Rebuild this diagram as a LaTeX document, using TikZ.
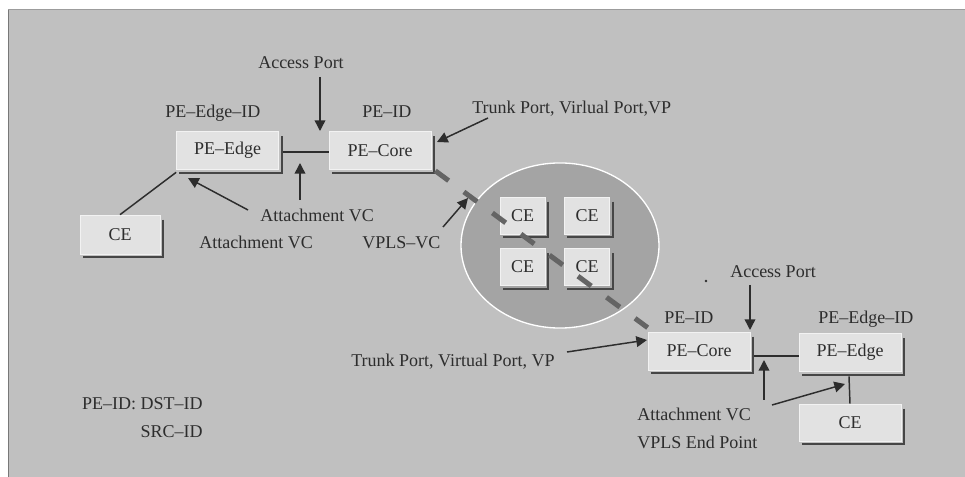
\documentclass[tikz,border=0pt]{standalone}
\usepackage{fontspec}
\setmainfont{Liberation Serif}
\usetikzlibrary{arrows.meta,calc}

\definecolor{bggray}{RGB}{192,192,192}
\definecolor{boxface}{RGB}{226,226,226}
\definecolor{boxrim}{RGB}{242,242,242}
\definecolor{ellfill}{RGB}{164,164,164}
\definecolor{ink}{RGB}{45,45,45}
\definecolor{shade}{RGB}{70,70,70}
\definecolor{edgegray}{RGB}{120,120,120}
\definecolor{dashgray}{RGB}{100,100,100}

\begin{document}
\begin{tikzpicture}[x=0.75pt,y=-0.75pt,
  txt/.style={font=\fontsize{13.5}{15}\selectfont, text=ink},
  lbl/.style={txt, inner sep=0pt, anchor=base west},
  lblr/.style={txt, inner sep=0pt, anchor=base east},
  box/.style={txt, draw=boxrim, fill=boxface, line width=0.5pt, inner sep=0pt},
  pebox/.style={box, minimum width=76.5pt, minimum height=28.5pt},
  cebig/.style={box, minimum width=60pt, minimum height=29.25pt},
  cewide/.style={box, minimum width=76.5pt, minimum height=27.75pt},
  cesmall/.style={box, minimum width=33.75pt, minimum height=27.75pt},
  dropshade/.style={draw=shade, line width=1.6pt},
  link/.style={draw=ink, line width=1.1pt},
  arr/.style={draw=ink, line width=1.1pt, -{Triangle[length=8pt,width=8pt]}},
  vcpath/.style={draw=dashgray, line width=3.75pt, dash pattern=on 12.4pt off 14.2pt}
]
% canvas
\useasboundingbox (0,0) rectangle (965,477);
\fill[white] (0,0) rectangle (965,477);
\fill[bggray] (8,10) rectangle (965,477);
\fill[edgegray] (7.5,10) rectangle (8.5,477);
\fill[edgegray!50!bggray] (8,9.5) rectangle (965,10.5);

% VPLS cloud
\draw[white, line width=1pt, fill=ellfill] (560,245.5) ellipse [x radius=74.25pt, y radius=61.9pt];

% devices
\node[pebox] (peL) at (227.5,150.5) {PE–Edge};
\node[pebox] (pcL) at (380,150.5) {PE–Core};
\node[cebig] (ceL) at (120,234.5) {CE};
\node[cesmall] (ce1) at (522.5,215.5) {CE};
\node[cesmall] (ce2) at (587,215.5) {CE};
\node[cesmall] (ce3) at (522.5,267) {CE};
\node[cesmall] (ce4) at (587,267) {CE};
\node[pebox] (pcR) at (699,351) {PE–Core};
\node[pebox] (peR) at (850,352.5) {PE–Edge};
\node[cewide] (ceR) at (850,422.5) {CE};

% drop shadows along right and bottom edges
\foreach \n in {peL,pcL,ceL,ce1,ce2,ce3,ce4,pcR,peR,ceR}
  \draw[dropshade] ([shift={(3,5)}]\n.north east) -- ([shift={(3,3)}]\n.south east)
                   -- ([shift={(3,3)}]\n.south west);

% labels
\node[lbl] (apU) at (258,69) {Access Port};
\node[lbl] (peidEU) at (165,118) {PE–Edge–ID};
\node[lbl] (peidU) at (362,118) {PE–ID};
\node[lbl] (tpU) at (472,114) {Trunk Port, Virlual Port,VP};
\node[lbl] (avA) at (260,222) {Attachment VC};
\node[lbl] (avB) at (199,249) {Attachment VC};
\node[lbl] (vplsvc) at (362,249) {VPLS–VC};
\node[lbl] (apR) at (730,278) {Access Port};
\node[lbl] (peidR) at (664,324) {PE–ID};
\node[lbl] (peidER) at (818,324) {PE–Edge–ID};
\node[lbl] (tpR) at (351,367) {Trunk Port, Virtual Port, VP};
\node[lbl] (avR) at (637,421) {Attachment VC};
\node[lbl] (endpt) at (637,449) {VPLS End Point};
\node[lblr] (idA) at (203,410) {PE–ID: DST–ID};
\node[lblr] (idB) at (203,438) {SRC–ID};
\fill[ink] (706,281) circle [radius=1.1pt];

% attachment circuits
\draw[link] ([shift={(4,1.5)}]peL.east) -- ([shift={(0,1.5)}]pcL.west);
\draw[link] (ceL.north) -- ([shift={(0,2.5)}]peL.south west);
\draw[link] ([shift={(4,5)}]pcR.east) -- ([shift={(0,3.5)}]peR.west);
\draw[link] ([shift={(-1,4.5)}]peR.south) -- (ceR.north);

% pointer arrows
\coordinate (apUa) at (320,77);   \coordinate (apUb) at (320,131);
\coordinate (tpUa) at (488,118);  \coordinate (tpUb) at (437,142);
\coordinate (avAa) at (248,210);  \coordinate (avAb) at (188,178);
\coordinate (avAc) at (300,200);  \coordinate (avAd) at (300,163);
\coordinate (vvA)  at (443,227);  \coordinate (vvB)  at (468,198);
\coordinate (apRa) at (750,285);  \coordinate (apRb) at (750,330);
\coordinate (tpRa) at (567,352);  \coordinate (tpRb) at (647,340);
\coordinate (avRa) at (764,400);  \coordinate (avRb) at (764,360);
\coordinate (avRc) at (772,405);  \coordinate (avRd) at (845,384);
\draw[arr] (apUa) -- (apUb);
\draw[arr] (tpUa) -- (tpUb);
\draw[arr] (avAa) -- (avAb);
\draw[arr] (avAc) -- (avAd);
\draw[arr] (vvA) -- (vvB);
\draw[arr] (apRa) -- (apRb);
\draw[arr] (tpRa) -- (tpRb);
\draw[arr] (avRa) -- (avRb);
\draw[arr] (avRc) -- (avRd);

% VPLS virtual circuit between the core PEs
\draw[vcpath] ([shift={(4,1)}]pcL.south east) -- ([shift={(0,-4)}]pcR.north west);
\end{tikzpicture}
\end{document}
